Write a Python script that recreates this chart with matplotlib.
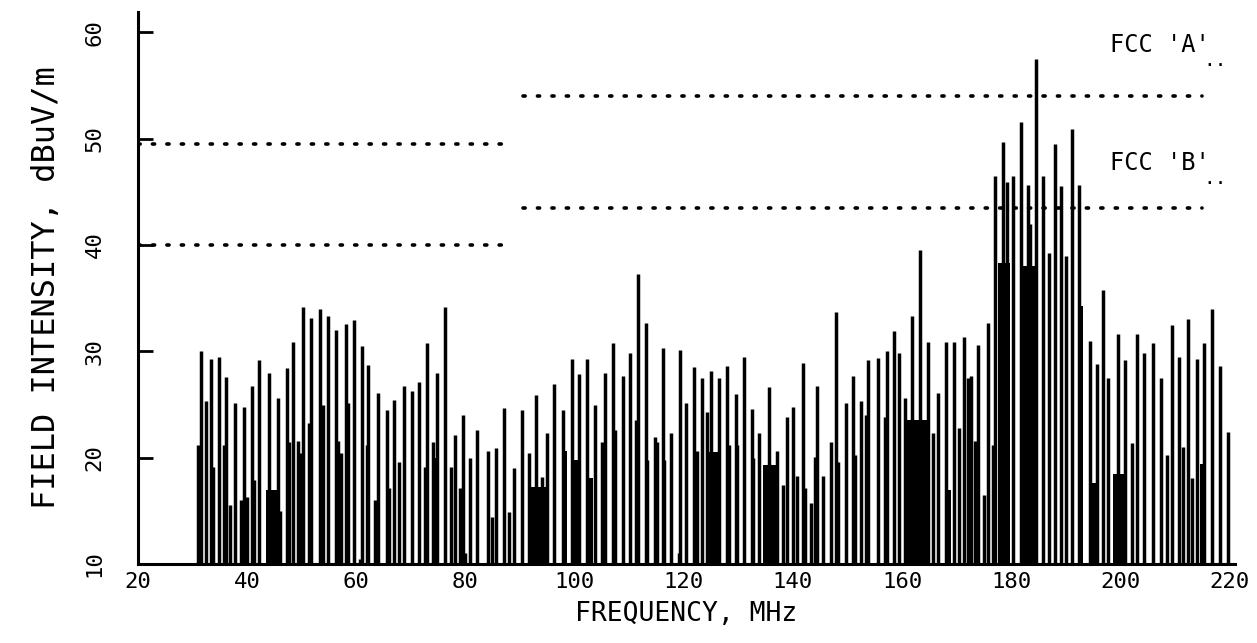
import matplotlib
matplotlib.use("Agg")
import matplotlib.pyplot as plt

# emission lines (MHz, dBuV/m)
freq = [31.0, 31.6, 32.5, 33.4, 33.7, 34.8, 35.75, 36.1, 36.8, 37.8,
        38.9, 39.4, 40.0, 40.9, 41.2, 42.2, 44.0, 45.6, 46.0, 47.3,
        47.6, 48.4, 49.3, 49.7, 50.2, 51.3, 51.7, 53.3, 53.9, 54.8,
        56.3, 56.6, 57.2, 58.1, 58.5, 59.6, 60.7, 61.0, 61.9, 62.1,
        63.4, 64.0, 65.6, 65.9, 66.9, 67.8, 68.7, 70.2, 71.5, 72.6,
        73.0, 74.0, 74.8, 76.2, 77.3, 78.1, 79.0, 79.5, 79.9, 80.8,
        82.1, 84.1, 84.8, 85.6, 87.0, 87.9, 88.9, 90.3, 91.6, 92.9,
        94.0, 94.9, 96.2, 97.8, 99.5, 100.8, 102.2, 103.7, 105.0, 105.5,
        107.0, 107.4, 108.8, 110.1, 111.3, 111.6, 113.0, 113.2, 114.7, 115.1,
        116.2, 116.4, 117.6, 119.1, 119.3, 120.4, 121.8, 122.4, 123.3, 124.2,
        124.9, 126.4, 127.9, 128.2, 129.5, 129.7, 131.0, 132.5, 132.6, 133.7,
        135.6, 137.0, 138.1, 138.9, 140.0, 140.7, 141.8, 142.2, 143.3, 144.0,
        144.4, 145.5, 147.0, 147.8, 148.2, 149.7, 151.0, 151.3, 152.4, 153.3,
        153.7, 155.5, 156.8, 157.2, 158.5, 159.4, 160.5, 161.8, 163.2, 164.7,
        165.6, 166.5, 168.0, 169.5, 170.4, 171.3, 172.0, 172.7, 173.3, 174.0,
        175.1, 175.7, 176.6, 177.1, 178.4, 179.3, 180.3, 181.7, 183.0, 183.4,
        184.6, 185.9, 187.0, 188.0, 189.2, 190.1, 191.2, 192.5, 194.5, 195.8,
        196.9, 197.8, 199.5, 200.8, 202.1, 203.0, 204.4, 205.9, 207.4, 208.5,
        209.4, 210.7, 211.4, 212.3, 213.2, 214.1, 215.4, 216.7, 218.2, 219.7]
level = [21.2, 30.0, 25.3, 29.3, 19.1, 29.5, 21.2, 27.6, 15.5, 25.1,
         16.0, 24.8, 16.3, 26.7, 17.9, 29.2, 28.0, 25.6, 15.0, 28.4,
         21.5, 30.9, 21.6, 20.4, 34.2, 23.3, 33.1, 34.0, 24.9, 33.3,
         32.0, 21.6, 20.4, 32.6, 25.1, 32.9, 10.5, 30.5, 21.2, 28.7,
         16.0, 26.1, 24.5, 17.1, 25.4, 19.6, 26.7, 26.3, 27.1, 19.1,
         30.8, 21.5, 28.0, 34.2, 19.1, 22.1, 17.1, 24.0, 11.0, 20.0,
         22.6, 20.6, 14.4, 20.9, 24.7, 14.9, 19.0, 24.5, 20.4, 25.9,
         18.2, 22.3, 26.9, 24.5, 29.3, 27.9, 29.3, 24.9, 21.5, 28.0,
         30.8, 22.6, 27.7, 29.8, 23.5, 37.3, 32.7, 19.8, 21.9, 21.5,
         30.3, 19.8, 22.3, 11.0, 30.1, 25.1, 28.5, 20.6, 27.5, 24.3,
         28.1, 27.5, 28.6, 21.2, 26.0, 21.2, 29.5, 24.6, 20.0, 22.3,
         26.6, 20.6, 17.4, 23.8, 24.8, 18.3, 28.9, 17.1, 15.7, 20.1,
         26.7, 18.3, 21.5, 33.7, 19.6, 25.1, 27.7, 20.2, 25.3, 24.0,
         29.2, 29.4, 23.8, 30.0, 31.9, 29.8, 25.6, 33.3, 39.5, 30.9,
         22.3, 26.1, 30.9, 30.9, 22.8, 31.3, 27.5, 27.7, 21.6, 30.6,
         16.5, 32.7, 21.2, 46.5, 49.7, 45.9, 46.5, 51.6, 45.6, 42.0,
         57.5, 46.5, 39.2, 49.5, 45.5, 39.0, 50.9, 45.6, 31.0, 28.8,
         35.8, 27.5, 31.6, 29.2, 21.4, 31.6, 29.8, 30.8, 27.5, 20.2,
         32.5, 29.5, 21.0, 33.0, 18.1, 29.3, 30.8, 34.0, 28.6, 22.4]

# dense clusters of unresolved lines (start MHz, end MHz, level)
dense_lo = [43.4, 73.8, 91.9, 97.6, 99.6, 102.5, 124.5, 134.5, 160.7, 168.4,
            177.5, 182.1, 192.5, 194.7, 198.6, 214.5]
dense_hi = [45.5, 75.2, 95.0, 98.6, 100.7, 103.4, 126.4, 137.0, 165.1, 169.0,
            179.7, 184.6, 193.1, 195.6, 201.1, 215.7]
dense_lvl = [17.0, 20.0, 17.2, 20.6, 19.8, 18.1, 20.5, 19.3, 23.5, 17.0,
             38.3, 38.0, 34.3, 17.6, 18.5, 19.4]

# FCC limit lines
lim_start = [20, 90.5]
lim_end = [87, 215]
fcc_a = [49.5, 54]
fcc_b = [40, 43.5]

font = "DejaVu Sans Mono"

fig = plt.figure(figsize=(12.57, 6.43), dpi=100)
ax = fig.add_axes([0.1098, 0.1229, 0.8727, 0.8585])

ax.vlines(freq, 10, level, color="black", lw=2.5)
ax.bar(dense_lo, [v - 10 for v in dense_lvl],
       width=[h - l for l, h in zip(dense_lo, dense_hi)],
       bottom=10, align="edge", color="black", linewidth=0)

for s, e, a, b in zip(lim_start, lim_end, fcc_a, fcc_b):
    ax.plot([s, e], [a, a], color="black", lw=2.6, ls=(0, (0.6, 3.4)),
            dash_capstyle="round")
    ax.plot([s, e], [b, b], color="black", lw=2.6, ls=(0, (0.6, 3.4)),
            dash_capstyle="round")

ax.text(207.2, 58.8, "FCC 'A'", fontsize=17, family=font, ha="center", va="center")
ax.text(217.3, 57.3, "..", fontsize=14, family=font, ha="center", va="center")
ax.text(207.2, 47.7, "FCC 'B'", fontsize=17, family=font, ha="center", va="center")
ax.text(217.3, 46.2, "..", fontsize=14, family=font, ha="center", va="center")

ax.set_xlim(20, 221)
ax.set_ylim(10, 61.9)
ax.set_xticks(range(20, 221, 20))
ax.set_yticks(range(10, 61, 10))

for side in ["top", "right"]:
    ax.spines[side].set_visible(False)
for side in ["left", "bottom"]:
    ax.spines[side].set_linewidth(2.2)

ax.tick_params(axis="x", length=0, pad=6, labelsize=16)
ax.tick_params(axis="y", direction="in", length=11, width=2, pad=24,
               labelsize=16, labelrotation=90)
for lab in ax.get_yticklabels():
    lab.set_va("center")
for lab in ax.get_xticklabels() + ax.get_yticklabels():
    lab.set_family(font)

ax.set_xlabel("FREQUENCY, MHz", fontsize=19, family=font, labelpad=6)
ax.set_ylabel("FIELD INTENSITY, dBuV/m", fontsize=23, family=font, labelpad=16)

fig.savefig("out.png", dpi=100)
